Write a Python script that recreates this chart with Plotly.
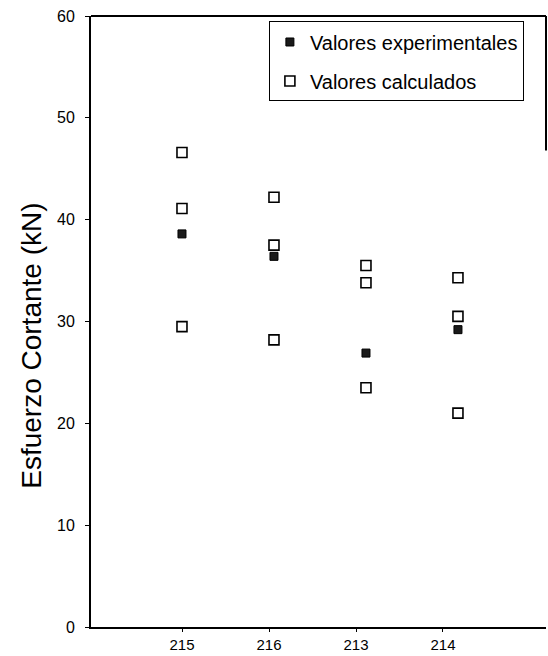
import plotly.graph_objects as go

# Probetas (orden del eje X)
probetas = ["215", "216", "213", "214"]

# Esfuerzo cortante medido en ensayo (kN)
experimentales = [38.6, 36.4, 26.9, 29.2]

# Esfuerzo cortante calculado por distintos métodos (kN), tres por probeta
calc_metodo_a = [46.6, 42.2, 35.5, 34.3]
calc_metodo_b = [41.1, 37.5, 33.8, 30.5]
calc_metodo_c = [29.5, 28.2, 23.5, 21.0]

y_ticks = [0, 10, 20, 30, 40, 50, 60]

font_fam = "Liberation Sans, Arial, sans-serif"

calc_x, calc_y = [], []
for serie in (calc_metodo_a, calc_metodo_b, calc_metodo_c):
    calc_x.extend(probetas)
    calc_y.extend(serie)

fig = go.Figure()

# Traza invisible que mantiene activo el eje X principal (etiquetas de probeta)
fig.add_trace(go.Scatter(
    x=probetas, y=experimentales, mode="markers",
    marker=dict(opacity=0), showlegend=False, hoverinfo="skip",
))

fig.add_trace(go.Scatter(
    x=probetas, y=experimentales, mode="markers",
    name="Valores experimentales",
    xaxis="x2", legendgroup="exp",
    marker=dict(symbol="square", size=8, color="#1a1a1a",
                line=dict(color="black", width=1)),
))
fig.add_trace(go.Scatter(
    x=calc_x, y=calc_y, mode="markers",
    name="Valores calculados",
    xaxis="x2", legendgroup="calc",
    marker=dict(symbol="square-open", size=10, color="black",
                line=dict(color="black", width=1.6)),
))

fig.update_layout(
    width=548, height=656,
    margin=dict(l=91, r=2, t=16, b=29),
    paper_bgcolor="white", plot_bgcolor="white",
    font=dict(family=font_fam, color="black"),
    showlegend=True,
    legend=dict(
        x=0.391, y=0.991, xanchor="left", yanchor="top",
        bgcolor="white", bordercolor="black", borderwidth=1,
        font=dict(size=20, family=font_fam, color="black"),
        tracegroupgap=10, traceorder="grouped",
        itemwidth=30,
    ),
    xaxis=dict(
        type="category", categoryorder="array", categoryarray=probetas,
        range=[-1.046, 4.184], automargin=False,
        showline=True, linecolor="black", linewidth=2,
        ticks="outside", ticklen=3, tickcolor="black",
        ticklabelstandoff=0,
        showgrid=False, zeroline=False,
        tickfont=dict(size=15, family=font_fam, color="black"),
    ),
    xaxis2=dict(
        type="category", categoryorder="array", categoryarray=probetas,
        range=[-0.989, 3.957],
        overlaying="x", visible=False,
    ),
    yaxis=dict(
        range=[0, 60], tickvals=y_ticks, automargin=False,
        showline=True, linecolor="black", linewidth=2,
        ticks="outside", ticklen=4, tickcolor="black",
        ticklabelstandoff=7,
        showgrid=False, zeroline=False,
        tickfont=dict(size=16, family=font_fam, color="black"),
    ),
    annotations=[dict(
        text="Esfuerzo Cortante (kN)", textangle=-90,
        xref="paper", yref="paper", x=-0.13, y=0.46,
        xanchor="center", yanchor="middle",
        showarrow=False, font=dict(size=28, family=font_fam, color="black"),
    )],
    shapes=[
        dict(type="line", xref="paper", yref="paper", x0=0, x1=1, y0=1, y1=1,
             line=dict(color="black", width=2)),
        dict(type="line", xref="paper", yref="paper", x0=1, x1=1, y0=1, y1=0.78,
             line=dict(color="black", width=2)),
    ],
)

fig.write_html("out.html")
